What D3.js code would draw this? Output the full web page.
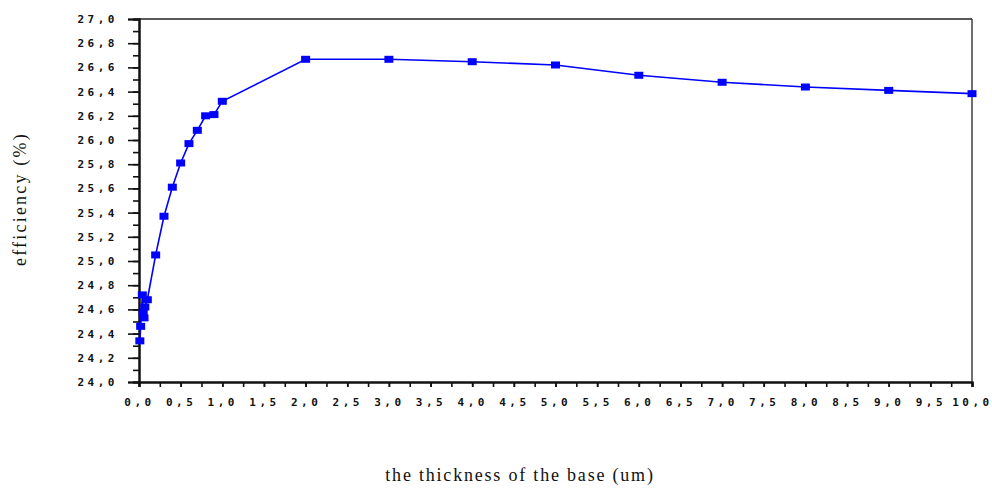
<!DOCTYPE html>
<html>
<head>
<meta charset="utf-8">
<script src="https://cdn.jsdelivr.net/npm/d3@7"></script>
<style>
  html, body { margin: 0; padding: 0; background: #fff; }
  svg { display: block; }
</style>
</head>
<body>
<svg id="chart" width="992" height="493"></svg>
<script>
// Base thickness (um) and cell efficiency (%)
const thickness = [0.01, 0.02, 0.04, 0.05, 0.06, 0.07, 0.10, 0.20, 0.30, 0.40, 0.50, 0.60, 0.70, 0.80, 0.90, 1.00,
                   2.0, 3.0, 4.0, 5.0, 6.0, 7.0, 8.0, 9.0, 10.0];
const efficiency = [24.34, 24.46, 24.72, 24.57, 24.53, 24.62, 24.68, 25.05, 25.37, 25.61, 25.81, 25.97, 26.08, 26.20, 26.21, 26.32,
                    26.667, 26.667, 26.647, 26.62, 26.535, 26.477, 26.438, 26.41, 26.383];

const yTickValues = d3.range(0, 16).map(i => +(24 + i * 0.2).toFixed(1));
const yMinorValues = d3.range(0, 31).map(i => +(24 + i * 0.1).toFixed(1));
const xTickValues = d3.range(0, 21).map(i => i * 0.5);
const xMinorValues = d3.range(0, 41).map(i => i * 0.25);

const xTitle = "the thickness of the base (um)";
const yTitle = "efficiency (%)";

const fmt = v => v.toFixed(1).replace(".", ",");

const svg = d3.select("#chart");
const plotLeft = 139, plotRight = 972, plotTop = 19, plotBottom = 382;

const x = d3.scaleLinear().domain([0, 10]).range([plotLeft, plotRight]);
const y = d3.scaleLinear().domain([24, 27]).range([plotBottom, plotTop]);

// frame: top and right edges
svg.append("line").attr("x1", plotLeft).attr("x2", plotRight).attr("y1", plotTop).attr("y2", plotTop)
  .attr("stroke", "#222").attr("stroke-width", 1.6);
svg.append("line").attr("x1", plotRight).attr("x2", plotRight).attr("y1", plotTop).attr("y2", plotBottom)
  .attr("stroke", "#333").attr("stroke-width", 1.4);

// y axis: minor ticks every 0.1, labelled ticks every 0.2
const yMinor = svg.append("g").attr("transform", `translate(${plotLeft},0)`)
  .call(d3.axisLeft(y).tickValues(yMinorValues).tickSize(6).tickFormat(""));
const yAxis = svg.append("g").attr("transform", `translate(${plotLeft},0)`)
  .call(d3.axisLeft(y).tickValues(yTickValues).tickSize(11).tickPadding(10).tickFormat(fmt));

// x axis: minor ticks every 0.25, labels every 0.5
const xMinor = svg.append("g").attr("transform", `translate(0,${plotBottom})`)
  .call(d3.axisBottom(x).tickValues(xMinorValues).tickSize(5).tickFormat(""));
const xAxis = svg.append("g").attr("transform", `translate(0,${plotBottom})`)
  .call(d3.axisBottom(x).tickValues(xTickValues).tickSize(5).tickPadding(11).tickFormat(fmt));

[yMinor, yAxis, xMinor, xAxis].forEach(g => {
  g.select(".domain").attr("stroke", "#111").attr("stroke-width", 2);
  g.selectAll(".tick line").attr("stroke", "#111").attr("stroke-width", 1.6);
});

svg.selectAll(".tick text")
  .attr("font-family", "'DejaVu Sans Mono', monospace")
  .attr("font-weight", "bold")
  .attr("font-size", 11)
  .attr("letter-spacing", "3.5px")
  .attr("fill", "#111");

// series line and square markers
const pts = thickness.map((t, i) => [t, efficiency[i]]);
svg.append("path")
  .datum(pts)
  .attr("fill", "none")
  .attr("stroke", "#0000ff")
  .attr("stroke-width", 1.6)
  .attr("d", d3.line().x(d => x(d[0])).y(d => y(d[1])));

svg.append("g").selectAll("rect")
  .data(pts)
  .join("rect")
  .attr("x", d => x(d[0]) - 4.5)
  .attr("y", d => y(d[1]) - 3.5)
  .attr("width", 9)
  .attr("height", 7)
  .attr("fill", "#0000ff");

// axis titles
svg.append("text")
  .attr("x", 520)
  .attr("y", 481)
  .attr("text-anchor", "middle")
  .attr("font-family", "'Liberation Serif', serif")
  .attr("font-size", 18)
  .attr("letter-spacing", "1.8px")
  .attr("fill", "#111")
  .text(xTitle);

svg.append("text")
  .attr("transform", "translate(26,199) rotate(-90)")
  .attr("text-anchor", "middle")
  .attr("font-family", "'Liberation Serif', serif")
  .attr("font-size", 18)
  .attr("letter-spacing", "2.2px")
  .attr("fill", "#111")
  .text(yTitle);
</script>
</body>
</html>
